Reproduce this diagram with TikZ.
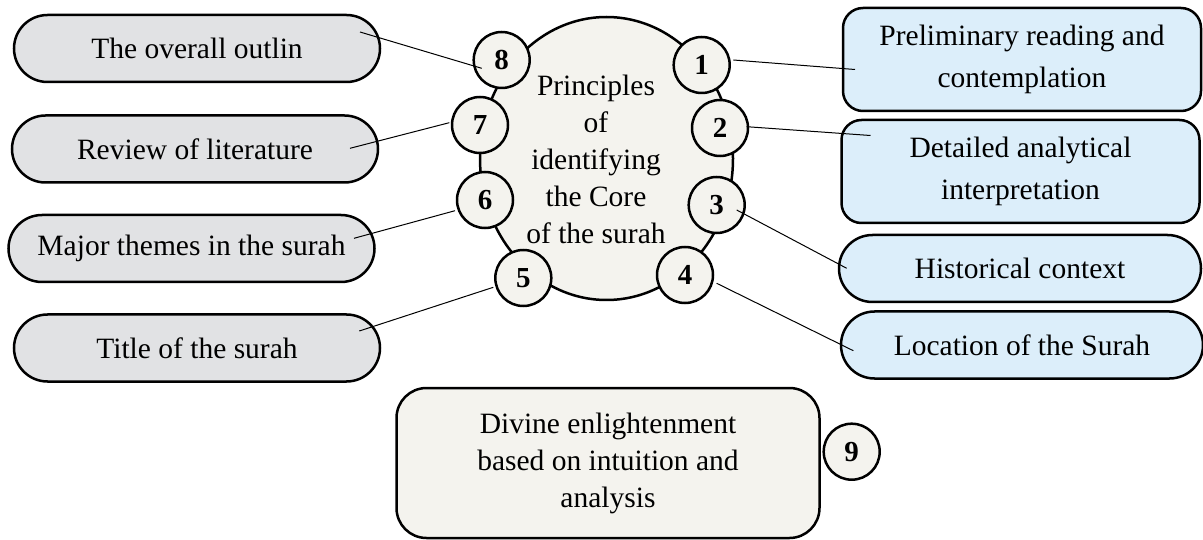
\documentclass[tikz,border=0pt]{standalone}
\usepackage{fontspec}
\setmainfont{Liberation Serif}
\usetikzlibrary{shapes.misc,shapes.geometric,calc}
\definecolor{grayfill}{HTML}{E1E2E4}
\definecolor{bluefill}{HTML}{DCEEFA}
\definecolor{creamfill}{HTML}{F4F3EE}
\tikzset{
  base/.style={draw=black, line width=2.5pt, align=center, inner sep=0pt,
    font=\fontsize{29.5}{37}\selectfont},
  leftbox/.style={base, rounded rectangle, fill=grayfill, minimum width=366pt, minimum height=67pt},
  pillbox/.style={base, rounded rectangle, fill=bluefill, minimum width=362pt, minimum height=67pt},
  tallbox/.style={base, rectangle, rounded corners=20pt, fill=bluefill, minimum width=358pt,
    minimum height=103pt, font=\fontsize{29.5}{42}\selectfont},
  num/.style={circle, draw=black, line width=2.5pt, fill=creamfill, minimum size=56pt,
    inner sep=0pt, font=\fontsize{29}{29}\selectfont\bfseries},
  conn/.style={draw=black, line width=1pt},
}
\begin{document}
\begin{tikzpicture}[x=1pt,y=-1pt]
\useasboundingbox (0,0) rectangle (1203,540);
\fill[white] (0,0) rectangle (1203,540);

% central ellipse
\node[base, ellipse, fill=creamfill, minimum width=253pt, minimum height=283pt] (core) at (606.5,158.5) {};
\node[align=center, inner sep=0pt, font=\fontsize{29.5}{37}\selectfont] (ctext) at (596,159)
  {Principles\\of\\identifying\\the Core\\of the surah};

% numbered circles
\node[num] (o1) at (701.7,65) {1};
\node[num] (o2) at (720,128) {2};
\node[num] (o3) at (716.7,205) {3};
\node[num] (o4) at (685,275) {4};
\node[num] (o5) at (523.3,278) {5};
\node[num] (o6) at (485,200) {6};
\node[num] (o7) at (480,125) {7};
\node[num] (o8) at (501.7,60) {8};
\node[num] (o9) at (851.7,451.7) {9};

% left boxes
\node[leftbox] (b8) at (197,48.5) {The overall outlin};
\node[leftbox] (b7) at (195,149) {Review of literature};
\node[leftbox] (b6) at (191.5,248.5) {Major themes in the surah};
\node[leftbox] (b5) at (197,348) {Title of the surah};

% right boxes
\node[tallbox] (r1) at (1022,59.5) {Preliminary reading and\\contemplation};
\node[tallbox] (r2) at (1020.5,171.5) {Detailed analytical\\interpretation};
\node[pillbox] (r3) at (1020,268.5) {Historical context};
\node[pillbox] (r4) at (1022,345) {Location of the Surah};

% bottom box
\node[base, rectangle, rounded corners=30pt, fill=creamfill, minimum width=423pt, minimum height=150pt] (div) at (608,463)
  {Divine enlightenment\\based on intuition and\\analysis};

% connectors
\draw[conn] ($(b8)+(163,-16.5)$) -- ($(o8)+(-20,8.3)$);
\draw[conn] ($(b7)+(155,-0.7)$) -- ($(o7)+(-30.7,-2.3)$);
\draw[conn] ($(b6)+(162.5,-10.2)$) -- ($(o6)+(-30,10.7)$);
\draw[conn] ($(b5)+(162.3,-17)$) -- ($(o5)+(-30,9.3)$);
\draw[conn] ($(o1)+(31.6,-5)$) -- ($(r1)+(-167,10)$);
\draw[conn] ($(o2)+(26.7,-1.3)$) -- ($(r2)+(-150,-36)$);
\draw[conn] ($(o3)+(20,5)$) -- ($(r3)+(-173.3,-0.2)$);
\draw[conn] ($(o4)+(31.7,8.3)$) -- ($(r4)+(-168.7,5.7)$);
\end{tikzpicture}
\end{document}
